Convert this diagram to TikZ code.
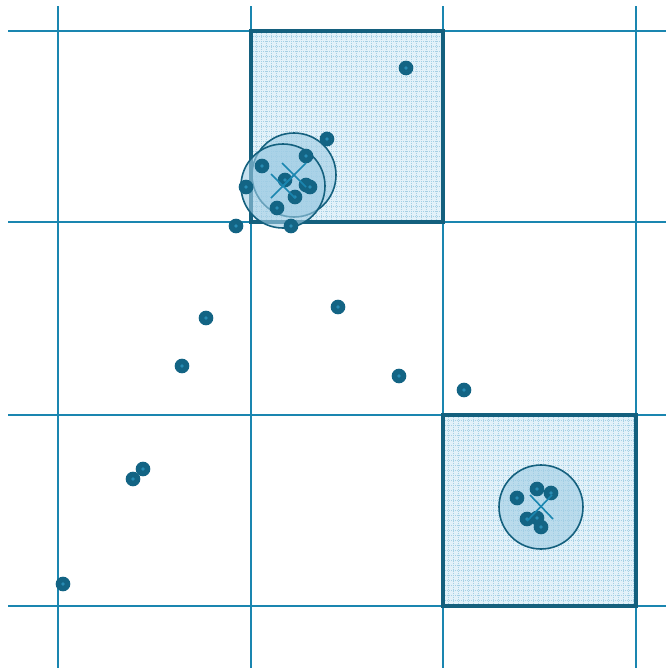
\documentclass[tikz,border=0pt]{standalone}
\begin{document}
\begin{tikzpicture}[x=0.75pt,y=-0.75pt]
\definecolor{gridc}{RGB}{26,134,176}
\definecolor{darkc}{RGB}{20,96,126}
\definecolor{ptc}{RGB}{19,100,132}
\definecolor{ptin}{RGB}{40,140,180}
\definecolor{sqfill}{RGB}{226,241,249}
\definecolor{hatch}{RGB}{165,208,228}
\definecolor{clfill}{RGB}{160,205,228}
\tikzset{
  gridline/.style={gridc, line width=2.1pt},
  hilite/.style={darkc, line width=3.4pt},
  hatchline/.style={hatch, line width=0.45pt, dash pattern=on 0.75pt off 0.75pt},
  pt/.style={circle, fill=ptc, inner sep=0pt, minimum size=11pt,
    path picture={\fill[ptin] (path picture bounding box.center) circle (1.4pt);}},
  clus/.style={circle, draw=darkc, line width=1.2pt, fill=clfill, fill opacity=0.6, text opacity=1, inner sep=0pt, minimum size=63pt},
  cross/.style={gridc, line width=1.2pt}
}
\useasboundingbox (0,0) rectangle (666,668);
% highlighted squares
\fill[sqfill] (251,31) rectangle (443,222);
\fill[sqfill] (443,415) rectangle (636,606);
\foreach \k in {0,...,38}{
  \draw[hatchline] (251+5*\k,31) -- (251+5*\k,222);
  \draw[hatchline] (251,31+5*\k) -- (443,31+5*\k);
  \draw[hatchline] (443+5*\k,415) -- (443+5*\k,606);
  \draw[hatchline] (443,415+5*\k) -- (636,415+5*\k);
}
% grid
\foreach \x in {58,251,443,636} \draw[gridline] (\x,6) -- (\x,668);
\foreach \y in {31,222,415,606} \draw[gridline] (8,\y) -- (666,\y);
\draw[hilite] (251,31) rectangle (443,222);
\draw[hilite] (443,415) rectangle (636,606);
% cluster circles
\node[clus] (ca) at (294,175) {};
\node[clus] (cb) at (283,186) {};
\node[clus] (cc) at (541,507) {};
% points
\foreach \n/\px/\py in {p1/406/68, p2/327/139, p3/306/156, p4/262/166, p5/285/180,
  p6/306/185, p7/310/187, p8/246/187, p9/295/197, p10/277/208, p11/236/226,
  p12/291/226, p13/206/318, p14/338/307, p15/182/366, p16/399/376, p17/464/390,
  p18/143/469, p19/133/479, p20/63/584,
  q1/517/498, q2/537/489, q3/551/493, q4/527/519, q5/537/518, q6/541/527}
  \node[pt] (\n) at (\px,\py) {};
% centroid crosses
\coordinate (a1) at (282,163); \coordinate (a2) at (306,187);
\coordinate (a3) at (306,163); \coordinate (a4) at (282,187);
\coordinate (b1) at (271,174); \coordinate (b2) at (295,198);
\coordinate (b3) at (295,174); \coordinate (b4) at (271,198);
\coordinate (c1) at (530,495); \coordinate (c2) at (553,519);
\coordinate (c3) at (552,495); \coordinate (c4) at (527,521);
\draw[cross] (a1) -- (a2); \draw[cross] (a3) -- (a4);
\draw[cross] (b1) -- (b2); \draw[cross] (b3) -- (b4);
\draw[cross] (c1) -- (c2); \draw[cross] (c3) -- (c4);
\end{tikzpicture}
\end{document}
